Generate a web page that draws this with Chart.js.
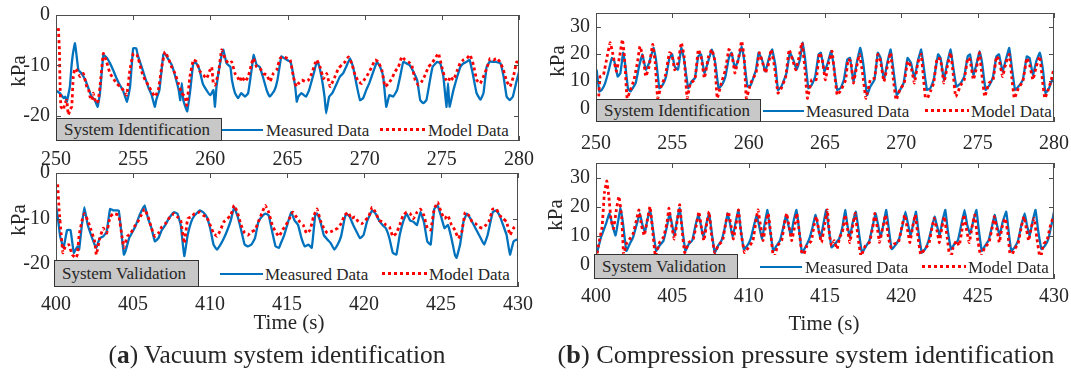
<!DOCTYPE html>
<html>
<head>
<meta charset="utf-8">
<script src="https://cdn.jsdelivr.net/npm/chart.js@4.4.1/dist/chart.umd.min.js"></script>
<style>
  body { margin: 0; width: 1071px; height: 378px; position: relative; overflow: hidden; background: #fff;
         font-family: "Liberation Serif", serif; color: #262626; }
  canvas { position: absolute; left: 0; top: 0; }
  .txt { position: absolute; white-space: nowrap; line-height: 1; }
  .ylab { font-size: 21px; transform: translate(-50%, -50%) rotate(-90deg); }
  .mid { transform: translate(-50%, -50%); }
  .tag { position: absolute; background: #c8c8c8; border: 1px solid #333; box-sizing: border-box;
         font-size: 17px; padding-left: 7px; display: flex; align-items: center; white-space: nowrap; }
  .legbg { position: absolute; background: #fff; }
  .blue { position: absolute; height: 2.5px; background: #0072bd; }
  .red { position: absolute; height: 3px; background: repeating-linear-gradient(90deg, #ff0000 0 3px, transparent 3px 6px); }
  .legtxt { position: absolute; font-size: 17px; white-space: nowrap; transform: translateY(-50%); line-height: 1; }
</style>
</head>
<body>
<canvas id="tl" width="1071" height="378"></canvas>
<canvas id="bl" width="1071" height="378"></canvas>
<canvas id="tr" width="1071" height="378"></canvas>
<canvas id="br" width="1071" height="378"></canvas>
<div id="overlay"></div>

<script>
// ---- tick labels ----
const idTicks = [250, 255, 260, 265, 270, 275, 280];
const valTicks = [400, 405, 410, 415, 420, 425, 430];
const vacuumTicks = [-20, -10, 0];
const pressureTicks = [0, 10, 20, 30];

// ---- (a) vacuum, identification: [time s, kPa] ----
const vacIdMeasured = [
  [250,-15],[250.25,-15.5],[250.5,-16.5],[250.6,-16.2],[250.7,-17.2],[250.9,-14.2],[251,-10.3],[251.1,-7.6],
  [251.23,-5.6],[251.35,-8.5],[251.45,-10.9],[251.65,-11.6],[251.9,-12.9],[252.1,-14.5],[252.3,-16.2],[252.5,-16.8],
  [252.7,-18.2],[252.85,-15.5],[253.07,-7.9],[253.3,-8.5],[253.5,-9.6],[253.7,-10.9],[253.9,-12.4],[254.1,-13.7],
  [254.35,-15],[254.6,-17.2],[254.8,-14.2],[255,-6.6],[255.2,-6.6],[255.3,-8],[255.55,-10.3],[255.75,-12.2],
  [256,-14.5],[256.2,-15.9],[256.4,-18.2],[256.5,-16.8],[256.7,-14.9],[256.95,-7.9],[257.05,-7.6],[257.3,-8.9],
  [257.5,-9.9],[257.7,-11.9],[257.95,-14.9],[258.05,-16.9],[258.15,-13.5],[258.25,-16.9],[258.5,-19.1],[258.7,-14.9],
  [258.9,-9.5],[259.1,-9.6],[259.3,-10.9],[259.5,-13.5],[259.75,-14.9],[260,-15.9],[260.2,-14.9],[260.3,-18.2],
  [260.4,-14.2],[260.75,-7.6],[260.84,-6.9],[261.05,-9.6],[261.3,-10.3],[261.4,-12.9],[261.6,-15.5],[261.8,-16.5],
  [262,-15.5],[262.25,-16.2],[262.45,-15.5],[262.7,-10.3],[262.8,-7.9],[263,-9.9],[263.2,-10.3],[263.4,-12.2],
  [263.65,-14.9],[263.85,-16.2],[264.15,-15],[264.35,-12.9],[264.6,-8.2],[264.8,-8.6],[265,-9],[265.2,-9.3],
  [265.5,-14.2],[265.6,-17.2],[265.7,-16.2],[265.9,-15.5],[266.2,-16.2],[266.4,-14.9],[266.7,-11.6],[266.9,-9.3],
  [267,-9.6],[267.2,-12.2],[267.4,-16.2],[267.5,-19.5],[267.7,-16.2],[267.9,-15.5],[268.1,-14.2],[268.4,-12.2],
  [268.6,-11.6],[268.8,-10.3],[269.05,-8.6],[269.25,-10.3],[269.5,-14.2],[269.7,-16.9],[269.9,-16.5],[270.1,-14.9],
  [270.3,-13.5],[270.6,-10.9],[270.8,-9.3],[271,-10.3],[271.2,-12.2],[271.4,-18.2],[271.6,-15.9],[271.85,-16.2],
  [272.1,-14.9],[272.3,-12.2],[272.5,-9.3],[272.7,-9.6],[272.9,-9.9],[273.1,-10.9],[273.4,-12.9],[273.6,-16.9],
  [273.8,-17.5],[274,-16.9],[274.2,-13.5],[274.4,-10.3],[274.7,-9.3],[274.9,-9.6],[275.1,-12.2],[275.3,-18.2],
  [275.4,-13.5],[275.5,-18.2],[275.75,-14.9],[276,-12.2],[276.2,-10.3],[276.4,-9.6],[276.6,-9.3],[276.8,-8.9],
  [277,-11.6],[277.25,-15.5],[277.5,-16.8],[277.7,-15.5],[277.9,-10.3],[278.1,-9.3],[278.5,-9.3],[278.8,-9.6],
  [279,-12.2],[279.2,-16.2],[279.4,-16.9],[279.6,-16.2],[279.85,-13],[280,-11.3]
];
const vacIdModel = [
  [250.15,-2.6],[250.22,-6.9],[250.26,-13.6],[250.32,-18.2],[250.48,-18.8],[250.58,-17.5],[250.69,-16.9],[250.8,-19.8],
  [250.91,-18.8],[251.02,-18.2],[251.12,-12.2],[251.23,-10.6],[251.34,-10.9],[251.56,-12.2],[251.77,-11.6],[251.99,-14.2],
  [252.1,-14.6],[252.2,-16.2],[252.31,-16.9],[252.42,-15.5],[252.53,-16.9],[252.63,-17.5],[252.74,-16.9],[252.85,-14.2],
  [253.07,-7.6],[253.28,-9.3],[253.5,-11.6],[253.71,-12.6],[253.93,-13.6],[254.15,-14.2],[254.36,-14.9],[254.58,-15.9],
  [254.79,-10.9],[255.01,-7.6],[255.23,-7.9],[255.33,-8.6],[255.55,-11.2],[255.77,-12.9],[255.98,-13.9],[256.2,-15.2],
  [256.41,-16.2],[256.63,-14.9],[256.85,-10.3],[257.06,-7.3],[257.28,-8.6],[257.49,-10.3],[257.71,-11.6],[257.93,-13.6],
  [258.14,-15.5],[258.36,-16.2],[258.47,-17.9],[258.68,-12.2],[258.9,-8.9],[259.11,-9.3],[259.33,-11.2],[259.55,-11.9],
  [259.76,-12.6],[259.98,-10.9],[260.09,-10.3],[260.19,-13.6],[260.3,-13.9],[260.52,-11.6],[260.73,-6.9],[260.95,-8.6],
  [261.17,-9.6],[261.38,-9.3],[261.6,-11.6],[261.81,-12.6],[261.92,-13.2],[262.03,-12.2],[262.25,-13.2],[262.46,-12.2],
  [262.68,-9.6],[262.79,-8.6],[263,-10.3],[263.22,-10.6],[263.43,-11.6],[263.65,-11.9],[263.87,-13.2],[264.08,-11.6],
  [264.3,-10.9],[264.52,-8.6],[264.75,-8.3],[265.17,-8.9],[265.38,-12.2],[265.49,-13.6],[265.6,-14.2],[265.71,-13.6],
  [265.92,-12.9],[266.14,-13.2],[266.36,-12.9],[266.57,-11.6],[266.79,-9.6],[266.9,-8.9],[267.11,-10.3],[267.33,-12.6],
  [267.54,-11.6],[267.65,-12.9],[267.76,-14.2],[267.87,-13.6],[268.08,-12.2],[268.3,-10.6],[268.52,-9.9],[268.73,-9.3],
  [268.95,-8.3],[269.16,-9.6],[269.38,-11.9],[269.6,-13.2],[269.81,-13.6],[270.03,-12.6],[270.24,-11.6],[270.46,-10.3],
  [270.68,-8.9],[270.89,-9.3],[271.11,-10.9],[271.32,-14.2],[271.54,-13.6],[271.76,-12.6],[271.97,-11.2],[272.19,-10.3],
  [272.4,-8.3],[272.62,-8.9],[272.84,-9.3],[273.05,-9.9],[273.27,-12.9],[273.48,-13.9],[273.7,-13.2],[273.92,-11.9],
  [274.13,-10.3],[274.35,-9.6],[274.56,-8.6],[274.78,-7.6],[275,-10.3],[275.21,-12.6],[275.43,-13.2],[275.54,-12.2],
  [275.75,-12.9],[275.97,-11.2],[276.18,-9.6],[276.4,-8.9],[276.62,-8.6],[276.83,-7.9],[277.05,-9.9],[277.26,-12.9],
  [277.48,-13.6],[277.7,-12.2],[277.91,-10.6],[278.13,-8.6],[278.34,-8.9],[278.56,-8.6],[278.77,-9.3],[278.99,-10.9],
  [279.21,-13.2],[279.42,-14.2],[279.64,-12.2],[279.85,-9.3],[280,-9.6]
];

// ---- (a) vacuum, validation ----
const vacValMeasured = [
  [400,-7.1],[400.11,-9.6],[400.27,-13.9],[400.49,-16.4],[400.72,-12.5],[400.94,-12.5],[401.16,-17.5],[401.39,-16.1],
  [401.5,-16.8],[401.68,-11.4],[401.84,-7.5],[402.06,-11.4],[402.28,-13.6],[402.51,-15.7],[402.62,-16.4],[402.84,-14.3],
  [403.07,-13.9],[403.29,-12.9],[403.51,-7.9],[403.74,-8.2],[404.07,-8.2],[404.19,-11.4],[404.41,-17.9],[404.52,-17.1],
  [404.75,-14.3],[404.97,-12.9],[405.19,-11.4],[405.42,-9.3],[405.75,-7.1],[405.98,-10],[406.2,-12.1],[406.42,-15],
  [406.65,-14.3],[406.87,-12.5],[407.1,-11.4],[407.32,-10],[407.66,-8.6],[407.88,-8.9],[408.1,-11.4],[408.33,-18.2],
  [408.55,-13.6],[408.78,-10.7],[409,-9.3],[409.34,-8.2],[409.56,-8.6],[409.78,-9.6],[410.01,-12.1],[410.23,-15.7],
  [410.45,-16.8],[410.68,-15.7],[410.9,-14.3],[411.13,-12.5],[411.35,-10.4],[411.57,-7.5],[411.8,-9.6],[412.02,-12.5],
  [412.25,-15.7],[412.47,-16.1],[412.69,-15.7],[412.92,-14.3],[413.14,-10.7],[413.36,-9.6],[413.59,-8.9],[413.81,-9.3],
  [414.04,-12.9],[414.26,-16.1],[414.48,-16.4],[414.6,-15.4],[414.82,-13.6],[415.04,-11.1],[415.27,-8.6],[415.49,-10.4],
  [415.72,-11.4],[415.94,-14.3],[416.16,-16.1],[416.39,-15.7],[416.61,-16.4],[416.83,-9.3],[416.95,-8.9],[417.17,-10.7],
  [417.39,-13.6],[417.62,-14.6],[417.84,-15.4],[418.07,-16.8],[418.29,-15.7],[418.51,-13.9],[418.74,-10],[418.85,-8.9],
  [419.07,-9.6],[419.3,-11.4],[419.52,-12.9],[419.74,-14.3],[419.97,-13.6],[420.19,-10.7],[420.53,-8.2],[420.75,-8.9],
  [420.98,-10.4],[421.2,-11.4],[421.42,-12.1],[421.65,-14.3],[421.87,-17.5],[422.1,-17.9],[422.32,-13.6],[422.54,-10.7],
  [422.77,-8.9],[422.99,-10.4],[423.21,-10.7],[423.44,-11.4],[423.66,-8.6],[423.89,-10.7],[424.11,-15],[424.33,-15.7],
  [424.56,-7.9],[424.78,-7.1],[425.01,-9.6],[425.23,-12.1],[425.45,-11.4],[425.68,-14.3],[425.9,-17.9],[426.01,-18.6],
  [426.24,-15.7],[426.46,-10.7],[426.68,-8.9],[426.91,-10],[427.13,-11.4],[427.36,-12.9],[427.58,-14.3],[427.8,-15.7],
  [428.03,-13.6],[428.36,-8.6],[428.59,-8.2],[428.81,-9.3],[429.03,-11.4],[429.26,-13.6],[429.48,-17.9],[429.71,-15],
  [429.93,-14.6],[430,-14.6]
];
const vacValModel = [
  [400.11,-2.5],[400.2,-7.9],[400.34,-13.6],[400.45,-17.5],[400.6,-16.1],[400.83,-15.7],[401.05,-17.9],[401.28,-18.6],
  [401.39,-17.9],[401.5,-13.6],[401.72,-10],[401.84,-8.9],[402.06,-10.4],[402.28,-12.5],[402.51,-15],[402.62,-17.9],
  [402.84,-14.3],[403.07,-12.1],[403.29,-13.2],[403.51,-9.6],[403.74,-8.9],[404.07,-9.3],[404.3,-14.3],[404.41,-16.4],
  [404.63,-13.9],[404.86,-13.2],[405.08,-11.8],[405.31,-10.7],[405.53,-9.3],[405.75,-7.9],[405.98,-9.6],[406.2,-12.1],
  [406.42,-13.9],[406.65,-13.2],[406.87,-11.8],[407.1,-11.1],[407.32,-10],[407.66,-8.9],[407.88,-9.6],[408.1,-10.4],
  [408.33,-15.4],[408.55,-10],[408.78,-9.6],[409,-8.9],[409.34,-8.6],[409.56,-9.3],[409.78,-9.6],[410.01,-11.4],
  [410.23,-13.2],[410.45,-13.9],[410.68,-12.5],[410.9,-10.7],[411.13,-10],[411.35,-9.3],[411.57,-7.1],[411.8,-8.9],
  [412.02,-11.4],[412.25,-13.2],[412.47,-13.6],[412.69,-12.9],[412.92,-12.5],[413.14,-10.7],[413.36,-8.9],[413.59,-7.1],
  [413.81,-8.6],[414.04,-11.4],[414.26,-12.9],[414.48,-13.9],[414.71,-12.5],[414.93,-11.4],[415.16,-10],[415.38,-8.6],
  [415.6,-9.6],[415.83,-10.7],[416.05,-11.4],[416.27,-13.2],[416.5,-12.5],[416.72,-9.6],[416.95,-7.9],[417.17,-10.4],
  [417.39,-12.1],[417.62,-13.2],[417.84,-12.9],[418.07,-12.5],[418.29,-12.1],[418.51,-11.1],[418.74,-9.3],[418.96,-8.6],
  [419.19,-10],[419.41,-9.6],[419.63,-10.7],[419.86,-11.1],[420.08,-10.4],[420.3,-9.6],[420.53,-7.5],[420.75,-8.6],
  [420.98,-10.4],[421.2,-10.7],[421.42,-11.4],[421.65,-11.8],[421.87,-13.9],[422.1,-13.2],[422.32,-11.4],[422.54,-9.3],
  [422.77,-8.6],[422.99,-8.9],[423.21,-10],[423.44,-8.6],[423.66,-7.9],[423.89,-9.3],[424.11,-12.1],[424.33,-12.5],
  [424.56,-7.9],[424.78,-6.4],[425.01,-8.6],[425.23,-10],[425.45,-9.3],[425.68,-11.4],[425.9,-12.5],[426.12,-14.3],
  [426.35,-12.9],[426.57,-8.6],[426.8,-9.3],[427.02,-10.7],[427.24,-11.1],[427.47,-11.8],[427.69,-12.1],[427.92,-11.4],
  [428.14,-10.4],[428.36,-7.9],[428.59,-7.9],[428.81,-9.3],[429.03,-10],[429.26,-10.7],[429.48,-13.6],[429.71,-12.1],
  [429.93,-11.4]
];

// ---- (b) compression pressure, identification ----
const presIdMeasured = [
  [250.04,14.2],[250.22,6.2],[250.38,6.8],[250.6,9.3],[250.82,13.6],[251.04,18.5],[251.2,17.3],[251.42,11.7],
  [251.6,13],[251.78,20.4],[251.93,15.4],[252.09,7.4],[252.26,6.2],[252.6,9.3],[252.82,15.4],[253.04,19.8],
  [253.26,14.2],[253.48,16.7],[253.77,22.2],[253.93,17.9],[254.15,7.4],[254.37,8.6],[254.59,11.7],[254.81,18.5],
  [254.99,19.8],[255.15,15.4],[255.37,14.2],[255.59,22.2],[255.77,17.9],[256.04,7.4],[256.26,9.9],[256.48,11.1],
  [256.7,19.1],[256.88,19.8],[257.1,13],[257.32,16.7],[257.59,21.6],[257.81,16.7],[258.03,7.4],[258.25,8.6],
  [258.48,11.7],[258.7,18.5],[258.88,20.4],[259.1,14.8],[259.32,17.9],[259.54,22.8],[259.7,17.9],[259.92,8],
  [260.14,8.6],[260.48,14.2],[260.65,20.4],[260.87,17.9],[261.1,13.6],[261.36,19.1],[261.54,21.6],[261.76,15.4],
  [261.92,6.8],[262.14,8],[262.48,13],[262.7,20.4],[262.92,17.9],[263.14,14.2],[263.36,17.9],[263.53,24.1],
  [263.69,18.5],[263.91,7.4],[264.13,8.6],[264.36,11.7],[264.58,19.8],[264.73,20.4],[264.96,13.6],[265.18,16.7],
  [265.4,21],[265.58,15.4],[265.8,6.8],[266.02,7.4],[266.24,10.5],[266.46,17.9],[266.64,18.5],[266.86,9.9],
  [267.08,16.7],[267.31,22.2],[267.53,15.4],[267.75,4.9],[267.97,8],[268.24,10.5],[268.46,20.4],[268.64,18.5],
  [268.86,10.5],[269.08,16.7],[269.3,21.6],[269.48,14.2],[269.7,4.9],[269.92,6.8],[270.15,9.3],[270.41,18.5],
  [270.63,16.7],[270.86,11.1],[271.08,17.3],[271.3,21.6],[271.46,15.4],[271.68,6.8],[271.9,7.4],[272.12,10.5],
  [272.41,19.8],[272.57,18.5],[272.79,10.5],[273.01,16.7],[273.23,21.6],[273.39,15.4],[273.61,8],[273.9,9.3],
  [274.12,11.7],[274.35,19.1],[274.5,19.8],[274.72,12.3],[274.94,16.7],[275.12,21],[275.29,16.7],[275.52,6.8],
  [275.78,8.6],[276.01,11.7],[276.23,19.1],[276.4,19.8],[276.63,13.6],[276.85,17.9],[277.07,22.2],[277.23,15.4],
  [277.45,6.8],[277.67,8],[277.96,10.5],[278.22,19.1],[278.4,18.5],[278.62,12.3],[278.84,17.3],[279.07,20.4],
  [279.29,13.6],[279.44,5.6],[279.67,7.4],[279.89,10.5],[280,11.1]
];
const presIdModel = [
  [250.05,2.5],[250.16,3.1],[250.27,11.7],[250.49,12.3],[250.71,18.5],[250.93,24.1],[251.11,19.8],[251.33,13.6],
  [251.55,19.1],[251.73,25.3],[251.86,19.1],[252.04,3.7],[252.26,6.8],[252.49,10.5],[252.71,16.7],[252.88,22.8],
  [253.11,17.9],[253.26,11.7],[253.48,15.4],[253.71,23.5],[253.88,16.7],[254.04,3.7],[254.26,8],[254.53,11.7],
  [254.81,20.4],[254.97,19.8],[255.15,14.2],[255.37,16.7],[255.59,24.1],[255.77,19.1],[255.97,3.7],[256.19,9.3],
  [256.48,10.5],[256.7,21.6],[256.88,19.1],[257.1,11.1],[257.37,19.1],[257.59,21.6],[257.77,17.9],[257.94,3.7],
  [258.21,9.3],[258.48,14.2],[258.7,21.6],[258.88,20.4],[259.1,13],[259.36,19.1],[259.54,24.7],[259.7,19.1],
  [259.85,3.7],[260.14,9.3],[260.48,13],[260.7,20.4],[260.92,16.7],[261.1,13],[261.32,16.7],[261.47,21.6],
  [261.69,15.4],[261.92,5.6],[262.14,7.4],[262.43,11.7],[262.65,21.6],[262.87,17.9],[263.09,14.2],[263.31,19.1],
  [263.49,24.1],[263.67,15.4],[263.85,3.7],[264.13,10.5],[264.42,10.5],[264.64,20.4],[264.82,17.9],[265.02,10.5],
  [265.24,16.7],[265.46,21],[265.62,13],[265.8,4.9],[266.06,6.8],[266.35,10.5],[266.51,17.9],[266.69,17.3],
  [266.86,9.3],[267.08,15.4],[267.26,19.8],[267.46,13],[267.68,3.7],[267.97,10.5],[268.24,11.1],[268.46,19.8],
  [268.64,17.3],[268.86,9.9],[269.13,16.7],[269.3,20.4],[269.48,10.5],[269.66,3.1],[269.9,6.8],[270.19,9.3],
  [270.41,17.3],[270.63,15.4],[270.86,9.3],[271.08,16.7],[271.3,19.8],[271.46,10.5],[271.61,2.5],[271.9,6.2],
  [272.12,9.3],[272.34,18.5],[272.57,17.9],[272.79,9.3],[273.01,15.4],[273.23,20.4],[273.39,13],[273.56,4.3],
  [273.9,8.6],[274.12,10.5],[274.35,18.5],[274.5,17.9],[274.72,10.5],[274.94,15.4],[275.12,20.4],[275.29,11.7],
  [275.47,4.3],[275.74,9.3],[276.01,10.5],[276.23,19.1],[276.4,17.9],[276.63,11.7],[276.85,16.7],[277.07,19.8],
  [277.23,11.7],[277.4,3.7],[277.67,7.4],[277.96,9.9],[278.22,18.5],[278.4,16.1],[278.62,10.5],[278.84,15.4],
  [279.07,19.1],[279.24,10.5],[279.4,3.7],[279.62,6.8],[279.82,10.5],[280,14.8]
];

// ---- (b) compression pressure, validation ----
const presValMeasured = [
  [400.07,4.1],[400.33,9.4],[400.66,14.1],[400.88,17.6],[401.11,12.9],[401.28,10],[401.44,14.7],[401.61,19.4],
  [401.77,14.1],[401.99,4.7],[402.21,7.1],[402.43,9.4],[402.65,13.5],[402.87,17.6],[403.05,13.5],[403.21,11.2],
  [403.36,15.3],[403.54,18.8],[403.71,12.9],[403.94,4.7],[404.16,6.5],[404.42,8.2],[404.64,12.9],[404.82,17.6],
  [404.97,14.1],[405.13,10],[405.31,15.3],[405.48,19.4],[405.64,12.9],[405.86,4.7],[406.08,7.1],[406.3,8.2],
  [406.52,13.5],[406.7,17.1],[406.85,14.1],[407.03,9.4],[407.23,14.1],[407.41,17.6],[407.56,11.8],[407.78,4.1],
  [408,6.5],[408.22,8.2],[408.45,12.9],[408.62,17.6],[408.78,14.1],[408.95,9.4],[409.13,14.1],[409.33,18.8],
  [409.46,12.9],[409.68,5.3],[409.91,6.5],[410.13,8.8],[410.35,13.5],[410.52,17.1],[410.68,13.5],[410.88,8.8],
  [411.05,14.1],[411.23,18.8],[411.39,12.4],[411.61,4.7],[411.83,6.5],[412.05,8.2],[412.27,12.9],[412.45,17.1],
  [412.6,13.5],[412.78,10],[412.93,14.7],[413.13,18.8],[413.31,11.8],[413.49,4.1],[413.71,5.9],[413.97,8.8],
  [414.19,12.9],[414.37,17.1],[414.53,13.5],[414.7,8.8],[414.88,13.5],[415.08,18.8],[415.26,11.8],[415.43,5.9],
  [415.65,7.1],[415.92,8.8],[416.14,12.9],[416.32,18.8],[416.47,13.5],[416.63,9.4],[416.8,14.1],[417.02,18.2],
  [417.2,11.8],[417.42,4.1],[417.64,5.9],[417.91,8.2],[418.13,13.5],[418.31,17.6],[418.46,14.1],[418.64,9.4],
  [418.84,14.1],[419.01,18.8],[419.19,11.8],[419.37,5.3],[419.59,6.5],[419.85,8.8],[420.08,13.5],[420.27,18.2],
  [420.45,13.5],[420.61,10],[420.78,14.1],[420.96,18.2],[421.11,11.8],[421.34,4.1],[421.56,5.3],[421.78,8.2],
  [422,12.9],[422.18,16.5],[422.33,13.5],[422.51,10],[422.68,14.7],[422.88,18.8],[423.04,11.8],[423.26,5.3],
  [423.48,7.1],[423.7,8.2],[423.92,13.5],[424.14,18.8],[424.32,13.5],[424.5,10.6],[424.7,14.7],[424.92,18.8],
  [425.05,12.9],[425.27,4.7],[425.49,6.5],[425.71,8.2],[425.93,12.9],[426.11,17.1],[426.27,13.5],[426.44,10],
  [426.64,14.7],[426.87,18.2],[427.02,11.8],[427.2,4.7],[427.42,5.9],[427.64,8.2],[427.86,13.5],[428.08,17.6],
  [428.23,13.5],[428.41,10],[428.59,14.7],[428.79,18.8],[428.96,11.8],[429.18,5.3],[429.41,6.5],[429.63,8.8],
  [429.85,14.1],[430,18.2]
];
const presValModel = [
  [400,1.8],[400.22,8.2],[400.4,12.9],[400.55,24.7],[400.71,28.8],[400.84,23.5],[400.99,15.3],[401.15,12.4],
  [401.33,18.8],[401.5,23.5],[401.68,16.5],[401.81,3.5],[401.99,7.1],[402.21,8.8],[402.43,10.6],[402.65,15.3],
  [402.81,18.8],[402.98,13.5],[403.16,10],[403.36,15.3],[403.54,20],[403.71,11.8],[403.89,2.9],[404.16,7.6],
  [404.42,9.4],[404.64,14.1],[404.78,19.4],[404.95,13.5],[405.13,8.8],[405.31,14.7],[405.48,20.6],[405.64,11.8],
  [405.81,4.1],[406.08,7.6],[406.37,8.8],[406.59,14.1],[406.74,18.2],[406.9,12.9],[407.07,8.2],[407.25,14.1],
  [407.41,18.2],[407.56,10.6],[407.78,4.1],[408,6.5],[408.29,8.2],[408.51,14.7],[408.67,18.2],[408.84,13.5],
  [409,8.8],[409.18,14.1],[409.33,18.8],[409.51,10.6],[409.73,4.1],[409.99,5.9],[410.28,8.2],[410.5,15.9],
  [410.61,18.8],[410.79,12.9],[410.94,8.2],[411.1,12.9],[411.28,17.6],[411.45,10.6],[411.63,1.8],[411.9,6.5],
  [412.16,8.2],[412.34,14.1],[412.49,17.6],[412.65,12.9],[412.82,8.2],[413,12.9],[413.15,17.6],[413.33,10.6],
  [413.53,2.4],[413.82,6.5],[414.11,8.2],[414.28,13.5],[414.44,16.5],[414.59,11.8],[414.77,7.6],[414.95,12.9],
  [415.15,18.8],[415.3,10],[415.43,6.5],[415.61,8.2],[415.79,5.3],[415.96,9.4],[416.14,11.2],[416.32,17.1],
  [416.47,12.4],[416.63,7.6],[416.8,12.9],[416.98,17.6],[417.16,9.4],[417.36,2.9],[417.64,6.5],[417.91,7.6],
  [418.13,12.9],[418.26,17.6],[418.42,12.9],[418.57,7.6],[418.79,12.9],[418.97,17.1],[419.15,9.4],[419.32,5.9],
  [419.54,7.1],[419.81,7.6],[420.03,12.9],[420.23,17.1],[420.41,11.8],[420.56,7.6],[420.74,12.9],[420.92,17.1],
  [421.09,9.4],[421.27,3.5],[421.53,5.3],[421.8,7.1],[422.02,12.9],[422.15,15.9],[422.33,11.8],[422.49,7.6],
  [422.66,12.9],[422.82,16.5],[423,9.4],[423.21,1.2],[423.39,5.9],[423.61,8.2],[423.79,6.5],[423.97,11.8],
  [424.1,17.1],[424.28,11.8],[424.45,7.6],[424.63,12.9],[424.81,17.1],[424.98,9.4],[425.2,2.9],[425.47,5.9],
  [425.74,7.6],[425.96,12.9],[426.09,16.5],[426.27,11.8],[426.42,7.6],[426.6,12.9],[426.8,15.9],[426.98,10.6],
  [427.15,2.4],[427.42,5.3],[427.64,7.1],[427.86,12.9],[428.03,16.5],[428.21,11.8],[428.34,8.2],[428.52,12.9],
  [428.7,15.9],[428.87,9.4],[429.1,1.8],[429.32,7.1],[429.54,8.2],[429.74,12.9],[430,17.1]
];

const BLUE = '#0072bd';
const RED = '#ff0000';
const AXIS = '#4d4d4d';
const FONT = 'Liberation Serif';
const W = 1071, H = 378;

// inside ticks + box outline, MATLAB style
const boxTicks = {
  id: 'boxTicks',
  afterDatasetsDraw(chart) {
    const { ctx, chartArea: a, scales: { x, y } } = chart;
    ctx.save();
    ctx.strokeStyle = AXIS;
    ctx.lineWidth = 1;
    ctx.beginPath();
    x.ticks.forEach(t => {
      const p = Math.round(x.getPixelForValue(t.value)) + 0.5;
      ctx.moveTo(p, a.bottom); ctx.lineTo(p, a.bottom - 5);
      ctx.moveTo(p, a.top); ctx.lineTo(p, a.top + 5);
    });
    y.ticks.forEach(t => {
      const p = Math.round(y.getPixelForValue(t.value)) + 0.5;
      ctx.moveTo(a.left, p); ctx.lineTo(a.left + 5, p);
      ctx.moveTo(a.right, p); ctx.lineTo(a.right - 5, p);
    });
    ctx.stroke();
    ctx.strokeRect(Math.round(a.left) + 0.5, Math.round(a.top) + 0.5,
                   Math.round(a.right - a.left) - 1, Math.round(a.bottom - a.top) - 1);
    ctx.restore();
  }
};

function toXY(pairs) {
  return pairs.map(p => ({ x: p[0], y: p[1] }));
}

function makePanel(id, box, xMin, xMax, xTicks, yMin, yMax, yTicks, measured, model, xPad) {
  const yW = 50, xH = 40;
  new Chart(document.getElementById(id), {
    type: 'line',
    data: {
      datasets: [
        { label: 'Model Data', data: toXY(model), borderColor: RED, borderWidth: 2.8,
          borderDash: [3, 3], pointRadius: 0, tension: 0.1, order: 0 },
        { label: 'Measured Data', data: toXY(measured), borderColor: BLUE, borderWidth: 2.3,
          pointRadius: 0, tension: 0.1, order: 1 }
      ]
    },
    options: {
      responsive: false,
      animation: false,
      events: [],
      layout: { padding: { left: box.l - yW, top: box.t, right: W - box.r, bottom: H - box.b - xH } },
      plugins: { legend: { display: false }, tooltip: { enabled: false } },
      scales: {
        x: {
          type: 'linear', min: xMin, max: xMax,
          grid: { display: false, drawTicks: false },
          border: { display: false },
          afterBuildTicks: s => { s.ticks = xTicks.map(v => ({ value: v })); },
          afterFit: s => { s.height = xH; s.paddingLeft = 0; s.paddingRight = 0; },
          ticks: { autoSkip: false, maxRotation: 0, padding: xPad, color: '#262626',
                   font: { family: FONT, size: 20 } }
        },
        y: {
          min: yMin, max: yMax,
          grid: { display: false, drawTicks: false },
          border: { display: false },
          afterBuildTicks: s => { s.ticks = yTicks.map(v => ({ value: v })); },
          afterFit: s => { s.width = yW; s.paddingTop = 0; s.paddingBottom = 0; },
          ticks: { autoSkip: false, padding: 6, color: '#262626',
                   font: { family: FONT, size: 20 } }
        }
      }
    },
    plugins: [boxTicks]
  });
}

makePanel('tl', { l: 56, t: 15, r: 519, b: 141 }, 250, 280, idTicks, -25, 0, vacuumTicks, vacIdMeasured, vacIdModel, 7);
makePanel('bl', { l: 56, t: 173, r: 518, b: 287 }, 400, 430, valTicks, -25, 0, vacuumTicks, vacValMeasured, vacValModel, 6);
makePanel('tr', { l: 596, t: 13, r: 1054, b: 122 }, 250, 280, idTicks, -5, 35, pressureTicks, presIdMeasured, presIdModel, 10);
makePanel('br', { l: 596, t: 163, r: 1054, b: 279 }, 400, 430, valTicks, -5, 35, pressureTicks, presValMeasured, presValModel, 6);

// ---- overlay text: axis titles, tags, legends, captions ----
const ov = document.getElementById('overlay');
function add(cls, css, html) {
  const d = document.createElement('div');
  d.className = cls;
  Object.assign(d.style, css);
  d.innerHTML = html;
  ov.appendChild(d);
  return d;
}

[[18, 71], [18, 220], [557, 61], [555, 215]].forEach(p =>
  add('txt ylab', { left: p[0] + 'px', top: p[1] + 'px' }, 'kPa'));
add('txt mid', { left: '289px', top: '322px', fontSize: '21px' }, 'Time (s)');
add('txt mid', { left: '824px', top: '323px', fontSize: '21px' }, 'Time (s)');

function legendRow(tag, leg) {
  add('tag', { left: tag.l + 'px', top: tag.t + 'px', width: (tag.r - tag.l) + 'px', height: (tag.b - tag.t) + 'px' }, tag.text);
  add('legbg', { left: tag.r + 'px', top: tag.t + 1 + 'px', width: (leg.right - tag.r - 1) + 'px', height: (tag.b - tag.t - 2) + 'px' }, '');
  const yc = (tag.t + tag.b) / 2;
  add('blue', { left: leg.b0 + 'px', top: (yc - 1) + 'px', width: (leg.b1 - leg.b0) + 'px' }, '');
  add('legtxt', { left: leg.t1 + 'px', top: yc + 'px' }, 'Measured Data');
  add('red', { left: leg.r0 + 'px', top: (yc - 1.5) + 'px', width: (leg.r1 - leg.r0) + 'px' }, '');
  add('legtxt', { left: leg.t2 + 'px', top: yc + 'px' }, 'Model Data');
}
legendRow({ l: 56, t: 118, r: 222, b: 141, text: 'System Identification' },
          { right: 519, b0: 222, b1: 263, t1: 266, r0: 380, r1: 425, t2: 428 });
legendRow({ l: 54, t: 260, r: 199, b: 287, text: 'System Validation' },
          { right: 518, b0: 220, b1: 263, t1: 265, r0: 382, r1: 427, t2: 429 });
legendRow({ l: 596, t: 99, r: 761, b: 122, text: 'System Identification' },
          { right: 1054, b0: 763, b1: 804, t1: 806, r0: 925, r1: 969, t2: 971 });
legendRow({ l: 594, t: 254, r: 738, b: 279, text: 'System Validation' },
          { right: 1054, b0: 760, b1: 802, t1: 805, r0: 922, r1: 966, t2: 968 });

function caption(cx, cy, targetW, html) {
  const d = add('txt mid', { left: cx + 'px', top: cy + 'px', fontSize: '22px' }, html);
  const w = d.getBoundingClientRect().width;
  d.style.fontSize = (22 * targetW / w).toFixed(2) + 'px';
}
caption(277, 355, 337, '(<b>a</b>) Vacuum system identification');
caption(806, 355, 497, '(<b>b</b>) Compression pressure system identification');
</script>
</body>
</html>
